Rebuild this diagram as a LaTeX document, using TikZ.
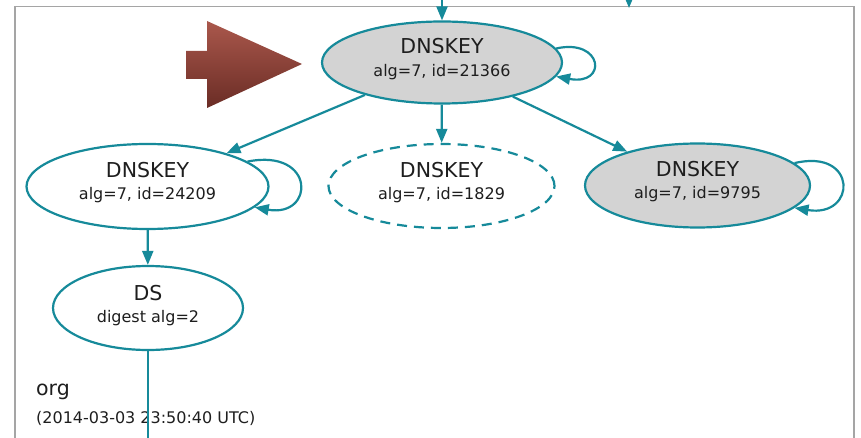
\documentclass[tikz,border=0pt]{standalone}
\usepackage{fontspec}
\setmainfont{DejaVu Sans}
\usetikzlibrary{shapes.geometric,arrows.meta,calc}
\definecolor{teal1}{RGB}{22,138,154}
\definecolor{nodegray}{RGB}{211,211,211}
\definecolor{txt}{RGB}{30,30,30}
\definecolor{boxgray}{RGB}{165,165,165}
\definecolor{redtop}{RGB}{170,88,76}
\definecolor{redbot}{RGB}{106,44,37}
\tikzset{
  keynode/.style={ellipse, draw=teal1, line width=2.2pt, inner sep=0pt},
  edge/.style={draw=teal1, line width=2.2pt, -{Triangle[length=14pt,width=11pt]}},
  plainedge/.style={draw=teal1, line width=2.2pt},
  lineone/.style={anchor=base, inner sep=0pt, text=txt, font=\fontsize{20.5}{24}\selectfont},
  linetwo/.style={anchor=base, inner sep=0pt, text=txt, font=\fontsize{16}{19}\selectfont},
}
\begin{document}
\begin{tikzpicture}[x=1pt,y=-1pt]
\useasboundingbox (0,0) rectangle (861,438);
% frame
\draw[boxgray, line width=1.8pt] (15,470) -- (15,6.5) -- (854,6.5) -- (854,470);
% red block arrow
\shade[top color=redtop, bottom color=redbot]
  (186,51) -- (207,51) -- (207,21) -- (302,64) -- (207,108) -- (207,79) -- (186,79) -- cycle;
% nodes
\node[keynode, fill=nodegray, minimum width=240pt, minimum height=82pt] (top) at (442,62.5) {};
\node[keynode, fill=white, minimum width=242pt, minimum height=85pt] (left) at (147.5,186.5) {};
\node[keynode, fill=white, dashed, dash pattern=on 10pt off 7pt, minimum width=226pt, minimum height=84pt] (mid) at (441.5,186) {};
\node[keynode, fill=nodegray, minimum width=225pt, minimum height=84pt] (right) at (697.5,185.5) {};
\node[keynode, fill=white, minimum width=190pt, minimum height=84pt] (ds) at (148,308) {};
% texts
\node[lineone] (topA) at ($(top)+(0,-8.5)$) {DNSKEY};
\node[linetwo] (topB) at ($(top)+(0,14)$) {alg=7, id=21366};
\node[lineone] (leftA) at ($(left)+(0,-8.5)$) {DNSKEY};
\node[linetwo] (leftB) at ($(left)+(0,13.5)$) {alg=7, id=24209};
\node[lineone] (midA) at ($(mid)+(0,-8.5)$) {DNSKEY};
\node[linetwo] (midB) at ($(mid)+(0,13.5)$) {alg=7, id=1829};
\node[lineone] (rightA) at ($(right)+(0,-8.5)$) {DNSKEY};
\node[linetwo] (rightB) at ($(right)+(0,13.5)$) {alg=7, id=9795};
\node[lineone] (dsA) at ($(ds)+(0,-8)$) {DS};
\node[linetwo] (dsB) at ($(ds)+(0,14)$) {digest alg=2};
\node[lineone, anchor=base west] (org) at (36,395) {org};
\node[linetwo, anchor=base west] (date) at (36,423) {(2014-03-03 23:50:40 UTC)};
% connectors
\coordinate (inA) at (442,-5);
\coordinate (inB) at (629,-5);
\coordinate (inBend) at (629,8);
\coordinate (dsEnd) at (148,450);
\draw[edge] (inA) -- (top);
\draw[edge] (inB) -- (inBend);
\draw[edge] (top) -- (left);
\draw[edge] (top) -- (mid);
\draw[edge] (top) -- (right);
\draw[edge] (left) -- (ds);
\draw[plainedge] (ds) -- (dsEnd);
% self loops
\draw[edge] (top.7) .. controls (603,38) and (608,86) .. (top.-7);
\draw[edge] (left.14) .. controls (316,148) and (315,218) .. (left.-11);
\draw[edge] (right.13) .. controls (858,148) and (857,218) .. (right.-13);
\end{tikzpicture}
\end{document}
